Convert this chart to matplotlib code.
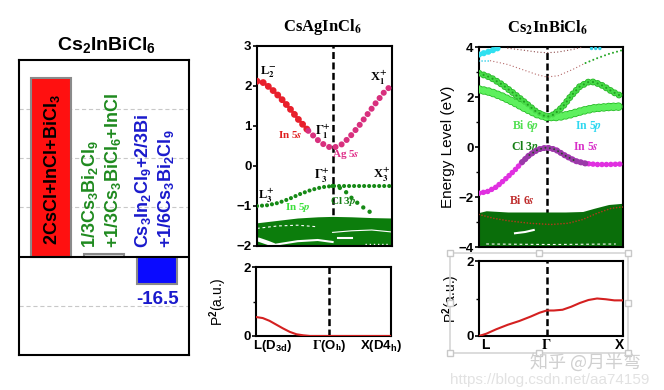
import numpy as np
import matplotlib.pyplot as plt
from matplotlib.patches import Rectangle

plt.rcParams['font.family'] = ['Liberation Sans', 'DejaVu Sans']
plt.rcParams['font.weight'] = 'bold'
plt.rcParams['mathtext.fontset'] = 'custom'
plt.rcParams['mathtext.rm'] = 'Liberation Sans:bold'
plt.rcParams['mathtext.bf'] = 'Liberation Sans:bold'
plt.rcParams['mathtext.it'] = 'Liberation Sans:italic:bold'
plt.rcParams['lines.scale_dashes'] = False

W, H = 664, 390

# decomposition energies (left panel)
reactions = ["2CsCl+InCl+BiCl$_\\mathbf{3}$",
             ["1/3Cs$_\\mathbf{3}$Bi$_\\mathbf{2}$Cl$_\\mathbf{9}$", "+1/3Cs$_\\mathbf{3}$BiCl$_\\mathbf{6}$+InCl"],
             ["Cs$_\\mathbf{3}$In$_\\mathbf{2}$Cl$_\\mathbf{9}$+2/3Bi", "+1/6Cs$_\\mathbf{3}$Bi$_\\mathbf{2}$Cl$_\\mathbf{9}$"]]
reaction_energy = [109, 1.5, -16.5]
bar_colors = ['#ff1010', '#d8d8d8', '#0a0aff']
text_colors = ['black', '#1f8a1f', '#1a1acc']

# CsAgInCl6 bands, k is path fraction L -> Gamma -> X
ag_gamma = 0.56
ag_k_cb = [0, 0.04, 0.1, 0.17, 0.24, 0.31, 0.38, 0.45, 0.51, 0.56, 0.62, 0.68, 0.75, 0.82, 0.89, 0.95, 1.0]
ag_e_cb = [2.12, 2.1, 1.95, 1.72, 1.45, 1.15, 0.88, 0.65, 0.5, 0.45, 0.52, 0.7, 0.98, 1.3, 1.62, 1.88, 2.02]
ag_k_vb = [0, 0.08, 0.16, 0.24, 0.32, 0.40, 0.48, 0.56, 0.7, 0.85, 1.0]
ag_e_vb = [-1.0, -0.98, -0.92, -0.82, -0.7, -0.6, -0.53, -0.5, -0.5, -0.5, -0.5]
ag_k_vb2 = [0.56, 0.6, 0.65, 0.71, 0.78, 0.85]
ag_e_vb2 = [-0.5, -0.52, -0.62, -0.83, -1.02, -1.18]
ag_k_dense = [0, 0.15, 0.3, 0.45, 0.56, 0.7, 0.85, 1.0]
ag_e_dense = [-1.42, -1.36, -1.3, -1.27, -1.26, -1.27, -1.29, -1.3]
ag_k_p2 = [0, 0.05, 0.1, 0.15, 0.2, 0.25, 0.3, 0.35, 0.4, 0.56, 1.0]
ag_p2 = [0.55, 0.52, 0.44, 0.33, 0.22, 0.12, 0.05, 0.02, 0.0, 0.0, 0.0]

# Cs2InBiCl6 bands
bi_gamma = 0.47
bi_k_a = [0, 0.08, 0.16, 0.24, 0.32, 0.40, 0.47, 0.55, 0.63, 0.72, 0.8, 0.9, 1.0]
bi_e_a = [2.3, 2.2, 2.02, 1.8, 1.55, 1.32, 1.2, 1.2, 1.3, 1.45, 1.55, 1.6, 1.62]
bi_k_b = [0, 0.08, 0.16, 0.24, 0.32, 0.40, 0.47, 0.52, 0.58, 0.64, 0.7, 0.76, 0.8, 0.86, 0.93, 1.0]
bi_e_b = [2.95, 2.78, 2.5, 2.15, 1.78, 1.4, 1.2, 1.3, 1.6, 2.05, 2.42, 2.6, 2.6, 2.45, 2.2, 2.0]
bi_k_vbm = [0, 0.06, 0.12, 0.18, 0.25, 0.3, 0.35, 0.41, 0.47, 0.53, 0.6, 0.67, 0.74, 0.82, 0.9, 1.0]
bi_e_vbm = [-1.85, -1.78, -1.6, -1.3, -0.92, -0.6, -0.32, -0.1, -0.02, -0.1, -0.35, -0.56, -0.66, -0.7, -0.7, -0.68]
bi_k_dense = [0, 0.05, 0.2, 0.4, 0.6, 0.72, 0.8, 0.9, 1.0]
bi_e_dense = [-2.62, -2.55, -2.6, -2.6, -2.6, -2.58, -2.45, -2.3, -2.25]
bi_k_6s = [0, 0.1, 0.2, 0.35, 0.5, 0.62, 0.72, 0.82, 0.92, 1.0]
bi_e_6s = [-2.7, -2.85, -2.95, -3.05, -3.1, -3.05, -2.9, -2.65, -2.45, -2.4]
bi_k_cyan = [0, 0.05, 0.1, 0.15]
bi_e_cyan = [3.7, 3.78, 3.88, 4.0]
bi_k_pink = [0.08, 0.2, 0.3, 0.4, 0.47, 0.55, 0.65, 0.74]
bi_e_pink = [3.45, 3.3, 3.1, 2.9, 2.8, 2.85, 3.1, 3.36]
bi_k_gdot = [0.74, 0.82, 0.9, 1.0]
bi_e_gdot = [3.36, 3.55, 3.72, 3.88]
bi_k_top = [0.2, 0.3, 0.4, 0.47, 0.55, 0.65, 0.72]
bi_e_top = [3.95, 3.88, 3.8, 3.77, 3.8, 3.9, 4.0]
bi_k_p2 = [0, 0.05, 0.12, 0.2, 0.28, 0.36, 0.42, 0.47, 0.52, 0.58, 0.64, 0.7, 0.76, 0.82, 0.88, 0.94, 1.0]
bi_p2 = [0, 0.06, 0.18, 0.3, 0.4, 0.52, 0.62, 0.68, 0.68, 0.7, 0.78, 0.88, 0.96, 1.0, 0.98, 0.95, 0.95]


def box(x0, y0, x1, y1):
    # pixel box -> figure fraction rect
    return [x0 / W, 1 - y1 / H, (x1 - x0) / W, (y1 - y0) / H]


def ftext(x, y, s, **kw):
    fig.text(x / W, 1 - y / H, s, **kw)


def dots(ax, k, e, color, size, step, edge=None, z=3):
    ls = (0, (0.01, step))
    if edge is not None:
        ax.plot(k, e, color=edge, lw=size + 1.2, ls=ls, dash_capstyle='round', zorder=z)
    ax.plot(k, e, color=color, lw=size, ls=ls, dash_capstyle='round', zorder=z + 0.1)


def style_axis(ax):
    for s in ax.spines.values():
        s.set_linewidth(1.5)
    ax.tick_params(axis='y', direction='out', length=3, width=1.2, labelsize=9.5, pad=1)
    ax.tick_params(axis='y', which='minor', direction='out', length=2, width=1)
    ax.set_xticks([])
    ax.set_xlim(0, 1)


fig = plt.figure(figsize=(W / 100, H / 100), dpi=100)

# ---- left panel: decomposition bars
ax1 = fig.add_axes(box(19, 60, 189, 355))
pos = np.arange(len(reaction_energy))
ax1.bar(pos, reaction_energy, width=0.75, color=bar_colors, edgecolor='#8a8a8a', linewidth=1.5, zorder=3)
ax1.set_xlim(-0.6, 2.6)
ax1.set_ylim(-60, 120)
for g in [-30, 30, 60, 90]:
    ax1.axhline(g, color='#c8c8c8', lw=0.8, ls=(0, (3, 2)), zorder=1)
ax1.axhline(0, color='black', lw=1.5, zorder=4)
ax1.set_xticks([])
ax1.set_yticks([])
for s in ax1.spines.values():
    s.set_linewidth(1.5)
ax1.text(0.03, 7, reactions[0], rotation=90, ha='center', va='bottom', fontsize=13, color=text_colors[0], zorder=5)
for i in [1, 2]:
    ax1.text(pos[i] - 0.27, 5, reactions[i][0], rotation=90, ha='center', va='bottom', fontsize=13, color=text_colors[i], zorder=5)
    ax1.text(pos[i] + 0.16, 5, reactions[i][1], rotation=90, ha='center', va='bottom', fontsize=13, color=text_colors[i], zorder=5)
ax1.text(pos[2], -21, f"{reaction_energy[2]}", ha='center', va='top', fontsize=13.5, color=text_colors[2])
ftext(106, 45, "Cs$_\\mathbf{2}$InBiCl$_\\mathbf{6}$", ha='center', va='center', fontsize=14)

serif = dict(family='Liberation Serif', math_fontfamily='stix', fontweight='bold')

# ---- CsAgInCl6 band structure
ax2 = fig.add_axes(box(257, 46, 392, 246))
style_axis(ax2)
ax2.set_ylim(-2, 3)
ax2.set_yticks([-2, -1, 0, 1, 2, 3])
ax2.axvline(ag_gamma, color='black', lw=1.8, ls=(0, (5, 2.5)), zorder=1)
ax2.fill_between(ag_k_dense, ag_e_dense, -2, color='#0c7d0c', lw=0, zorder=2)
ax2.plot([0.02, 0.08, 0.14], [-1.85, -1.92, -2.0], color='white', lw=3, zorder=2.2)
ax2.plot([0.15, 0.3, 0.45, 0.56], [-1.96, -1.88, -1.85, -1.9], color='white', lw=1.5, zorder=2.2)
ax2.plot([0.0, 0.15, 0.3, 0.45], [-1.56, -1.5, -1.48, -1.52], color='white', lw=0.8, ls=(0, (2, 2)), zorder=2.2)
ax2.plot([0.56, 0.7, 0.85, 1.0], [-1.66, -1.62, -1.6, -1.65], color='white', lw=0.8, zorder=2.2)
ax2.plot([0.6, 0.7], [-1.8, -1.8], color='white', lw=1.5, zorder=2.2)
ax2.plot([0.8, 0.97], [-1.95, -1.95], color='white', lw=1, ls=(0, (1, 2)), zorder=2.2)
dots(ax2, ag_k_cb[:7], ag_e_cb[:7], '#e8202c', 5.0, 4.6)
dots(ax2, ag_k_cb[6:], ag_e_cb[6:], '#d8307e', 4.4, 4.8)
dots(ax2, ag_k_vb, ag_e_vb, '#168a16', 3.0, 3.6)
dots(ax2, ag_k_vb2, ag_e_vb2, '#168a16', 3.2, 5.5)
ax2.text(0.02, 2.35, "L$_\\mathbf{2}^\\mathbf{-}$", fontsize=9, ha='left', va='center', **serif)
ax2.text(0.9, 2.2, "X$_\\mathbf{1}^\\mathbf{+}$", fontsize=9, ha='center', va='center', **serif)
ax2.text(0.25, 0.78, "In 5$\\mathit{s}$", fontsize=8, color='#e02020', ha='center', va='center', **serif)
ax2.text(0.49, 0.85, "$\\Gamma_\\mathbf{1}^\\mathbf{+}$", fontsize=9, ha='center', va='center', **serif)
ax2.text(0.66, 0.28, "Ag 5$\\mathit{s}$", fontsize=8, color='#e0308a', ha='center', va='center', **serif)
ax2.text(0.48, -0.25, "$\\Gamma_\\mathbf{3}^\\mathbf{+}$", fontsize=9, ha='center', va='center', **serif)
ax2.text(0.92, -0.22, "X$_\\mathbf{3}^\\mathbf{+}$", fontsize=9, ha='center', va='center', **serif)
ax2.text(0.07, -0.75, "L$_\\mathbf{3}^\\mathbf{+}$", fontsize=9, ha='center', va='center', **serif)
ax2.text(0.3, -1.05, "In 5$\\mathit{p}$", fontsize=8, color='#3ee03e', ha='center', va='center', **serif)
ax2.text(0.64, -0.9, "Cl 3$\\mathit{p}$", fontsize=8, color='#157f15', ha='center', va='center', **serif)
ftext(322, 27, "CsAgInCl$_\\mathbf{6}$", ha='center', va='center', fontsize=12, **serif)

ax2b = fig.add_axes(box(256, 267, 391, 336))
style_axis(ax2b)
ax2b.set_ylim(0, 2)
ax2b.set_yticks([0, 2])
ax2b.set_yticks([1], minor=True)
ax2b.axvline(0.54, color='black', lw=1.8, ls=(0, (5, 2.5)), zorder=1)
ax2b.plot(ag_k_p2, ag_p2, color='#d42020', lw=1.5, zorder=3)
ax2b.set_ylabel("P$^\\mathbf{2}$(a.u.)", fontsize=10)
ax2b.yaxis.set_label_coords(-0.2, 0.5)
ftext(253, 346, "L(D$_\\mathbf{3d}$)", ha='left', va='center', fontsize=9.5)
ftext(329, 346, "$\\Gamma$(O$_\\mathbf{h}$)", ha='center', va='center', fontsize=9.5, math_fontfamily='stix')
ftext(402, 346, "X(D4$_\\mathbf{h}$)", ha='right', va='center', fontsize=9.5)

# ---- Cs2InBiCl6 band structure
ax3 = fig.add_axes(box(479, 47, 623, 247))
style_axis(ax3)
ax3.set_ylim(-4, 4)
ax3.set_yticks([-4, -2, 0, 2, 4])
ax3.set_yticks([-3, -1, 1, 3], minor=True)
ax3.set_ylabel("Energy Level (eV)", fontsize=11)
ax3.yaxis.set_label_coords(-0.165, 0.5)
ax3.axvline(bi_gamma, color='black', lw=1.8, ls=(0, (5, 2.5)), zorder=1)
ax3.fill_between(bi_k_dense, bi_e_dense, -4, color='#0a6e0a', lw=0, zorder=2)
ax3.plot([0.25, 0.32, 0.38], [-3.45, -3.4, -3.32], color='white', lw=1.5, zorder=2.2)
ax3.plot([0.05, 0.5, 0.95], [-3.88, -3.9, -3.88], color='white', lw=0.8, ls=(0, (2, 2)), zorder=2.2)
dots(ax3, bi_k_6s, bi_e_6s, '#b03a1a', 1.2, 2.2)
dots(ax3, bi_k_cyan, bi_e_cyan, '#30e0f0', 4.5, 3.5)
dots(ax3, [0.0, 0.08], [3.45, 3.45], '#30d0e8', 1.2, 2.2)
dots(ax3, [0.78, 0.84], [3.98, 3.98], '#30d0e8', 2.5, 3)
dots(ax3, bi_k_pink, bi_e_pink, '#b87070', 1.0, 2.4)
dots(ax3, bi_k_gdot, bi_e_gdot, '#28a828', 1.5, 3.0)
dots(ax3, bi_k_top, bi_e_top, '#905050', 1.0, 2.4)
dots(ax3, bi_k_a, bi_e_a, '#5ef05e', 5.0, 3.5, edge='#2cc02c')
dots(ax3, bi_k_b, bi_e_b, '#48dc48', 3.8, 3.5, edge='#2cb82c')
dots(ax3, bi_k_b, bi_e_b, '#22a022', 1.6, 3.5, z=3.5)
dots(ax3, bi_k_vbm, bi_e_vbm, '#e030e0', 4.0, 3.2)
dots(ax3, bi_k_vbm[5:13], bi_e_vbm[5:13], '#9a3aa8', 4.4, 3.2, z=3.4)
dots(ax3, bi_k_vbm[6:12], bi_e_vbm[6:12], '#2a4a2a', 1.4, 3.2, z=3.6)
ax3.text(0.32, 0.84, "Bi 6$\\mathit{p}$", fontsize=8.5, color='#52e052', ha='center', va='center', **serif)
ax3.text(0.76, 0.8, "In 5$\\mathit{p}$", fontsize=8.5, color='#30d8f0', ha='center', va='center', **serif)
ax3.text(0.32, 0.0, "Cl 3$\\mathit{p}$", fontsize=8.5, color='#157f15', ha='center', va='center', **serif)
ax3.text(0.74, -0.02, "In 5$\\mathit{s}$", fontsize=8.5, color='#d830c8', ha='center', va='center', **serif)
ax3.text(0.3, -2.12, "Bi 6$\\mathit{s}$", fontsize=8.5, color='#c03030', ha='center', va='center', **serif)
ftext(548, 28, "Cs$_\\mathbf{2}$InBiCl$_\\mathbf{6}$", ha='center', va='center', fontsize=12, **serif)

ax3b = fig.add_axes(box(479, 261, 623, 336))
style_axis(ax3b)
ax3b.set_ylim(0, 2)
ax3b.set_yticks([0, 2])
ax3b.set_yticks([1], minor=True)
ax3b.axvline(bi_gamma, color='black', lw=1.8, ls=(0, (5, 2.5)), zorder=1)
ax3b.plot(bi_k_p2, bi_p2, color='#d42020', lw=1.5, zorder=3)
ax3b.set_ylabel("P$^\\mathbf{2}$(a.u.)", fontsize=10)
ax3b.yaxis.set_label_coords(-0.115, 0.5)
ftext(481, 345, "L", ha='left', va='center', fontsize=10)
ftext(546, 345, "$\\Gamma$", ha='center', va='center', fontsize=10, math_fontfamily='stix')
ftext(624, 345, "X", ha='right', va='center', fontsize=10)

# selection frame left around the lower right panel
fig.add_artist(Rectangle((450 / W, 1 - 353 / H), 178 / W, 100 / H, transform=fig.transFigure,
                         fill=False, ec='#d6d6d6', lw=1.2))
for hx in [450, 539, 628]:
    for hy in [253, 303, 353]:
        if hx == 539 and hy == 303:
            continue
        fig.add_artist(Rectangle(((hx - 3) / W, 1 - (hy + 3) / H), 6 / W, 6 / H, transform=fig.transFigure,
                                 fc='white', ec='#c8c8c8', lw=1))

# watermarks
ftext(585, 362, "知乎 @月半弯", ha='center', va='center', fontsize=13, color='#d0d0d0',
      fontweight='normal', family=['Noto Sans CJK SC', 'DejaVu Sans'])
ftext(550, 380, "https://blog.csdn.net/aa74159", ha='center', va='center', fontsize=11, color='#e2e2e2',
      fontweight='normal')

fig.savefig("out.png", dpi=100)
